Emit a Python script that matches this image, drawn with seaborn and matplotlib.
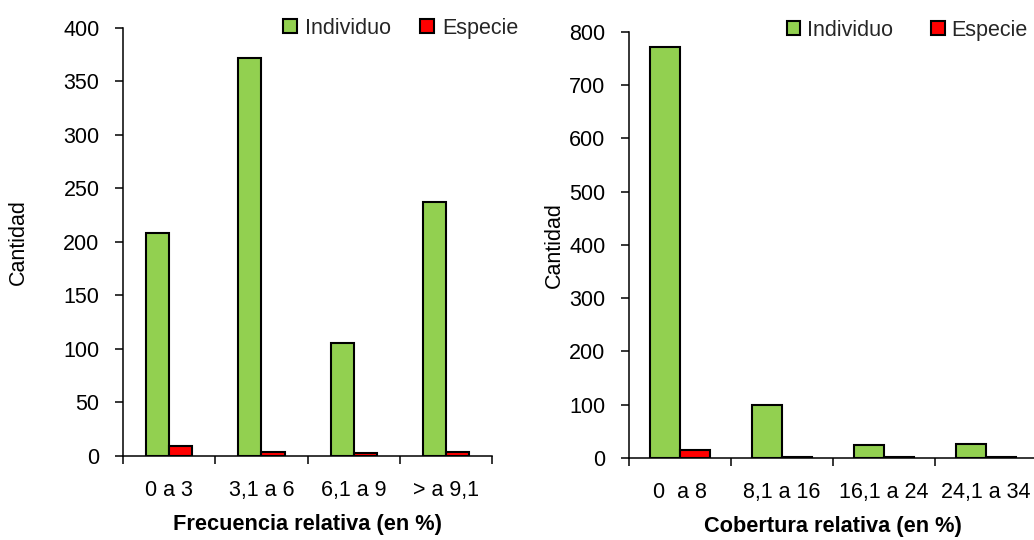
import matplotlib
matplotlib.use('Agg')
import matplotlib.pyplot as plt
from matplotlib.patches import Rectangle
from matplotlib.ticker import FixedLocator, MultipleLocator
import pandas as pd
import seaborn as sns

# data
frec_cats = ['0 a 3', '3,1 a 6', '6,1 a 9', '> a 9,1']
frec_individuo = [208, 372, 106, 237]
frec_especie = [9, 4, 3, 4]

cob_cats = ['0  a 8', '8,1 a 16', '16,1 a 24', '24,1 a 34']
cob_individuo = [771, 99, 24, 26]
cob_especie = [15, 1, 1, 1]

series = ['Individuo', 'Especie']
colors = {'Individuo': '#92D050', 'Especie': '#FF0000'}

sns.set_style('white')
plt.rcParams['font.family'] = ['Liberation Sans', 'DejaVu Sans']
FS = 15.5


def long_df(cats, ind, esp):
    return pd.DataFrame({
        'cat': cats * 2,
        'val': ind + esp,
        'serie': ['Individuo'] * len(cats) + ['Especie'] * len(cats),
    })


def draw(ax, cats, ind, esp, width, ymax, ystep, xlabel, ylabel_x):
    sns.barplot(data=long_df(cats, ind, esp), x='cat', y='val', hue='serie',
                order=cats, hue_order=series, palette=colors, saturation=1,
                width=width, gap=0, edgecolor='black', linewidth=1.5, ax=ax,
                legend=False)
    ax.set_xlim(-0.5, len(cats) - 0.5)
    ax.set_ylim(0, ymax)
    ax.yaxis.set_major_locator(MultipleLocator(ystep))
    # boundaries as major ticks, labels on minor ticks
    ax.xaxis.set_major_locator(FixedLocator([i - 0.5 for i in range(len(cats) + 1)]))
    ax.xaxis.set_minor_locator(FixedLocator(range(len(cats))))
    ax.set_xticklabels([], minor=False)
    ax.set_xticklabels(cats, minor=True)
    ax.tick_params(axis='x', which='major', direction='out', length=6, width=1.1,
                   color='black', bottom=True)
    ax.tick_params(axis='x', which='minor', length=0, pad=17, labelsize=FS,
                   labelcolor='black')
    ax.tick_params(axis='y', direction='out', length=6, width=1.1, color='black',
                   left=True, pad=11, labelsize=FS, labelcolor='black')
    for s in ['top', 'right']:
        ax.spines[s].set_visible(False)
    for s in ['left', 'bottom']:
        ax.spines[s].set_color('black')
        ax.spines[s].set_linewidth(1.1)
    ax.set_xlabel(xlabel, fontsize=15.7, fontweight='bold', labelpad=10, color='black')
    ax.set_ylabel('Cantidad', fontsize=FS, color='black')
    ax.yaxis.set_label_coords(ylabel_x, 0.5)


fig = plt.figure(figsize=(10.34, 5.4), dpi=100)
ax1 = fig.add_axes([0.119, 0.1556, 0.357, 0.7926])
ax2 = fig.add_axes([0.6083, 0.1519, 0.3946, 0.789])

draw(ax1, frec_cats, frec_individuo, frec_especie, 0.5, 400, 50,
     'Frecuencia relativa (en %)', -0.255)
draw(ax2, cob_cats, cob_individuo, cob_especie, 0.58, 800, 100,
     'Cobertura relativa (en %)', -0.157)

handles = [Rectangle((0, 0), 1, 1, facecolor=colors[s], edgecolor='black', linewidth=1.5)
           for s in series]
fig.legend(handles, series, ncol=2, loc='center left', bbox_to_anchor=(0.274, 0.948),
           frameon=False, fontsize=FS, handlelength=0.62, handleheight=0.62,
           handletextpad=0.4, columnspacing=1.35, borderpad=0, borderaxespad=0)
fig.legend(handles, series, ncol=2, loc='center left', bbox_to_anchor=(0.761, 0.944),
           frameon=False, fontsize=FS, handlelength=0.62, handleheight=0.62,
           handletextpad=0.3, columnspacing=1.8, borderpad=0, borderaxespad=0)

fig.savefig('out.png', dpi=100)
